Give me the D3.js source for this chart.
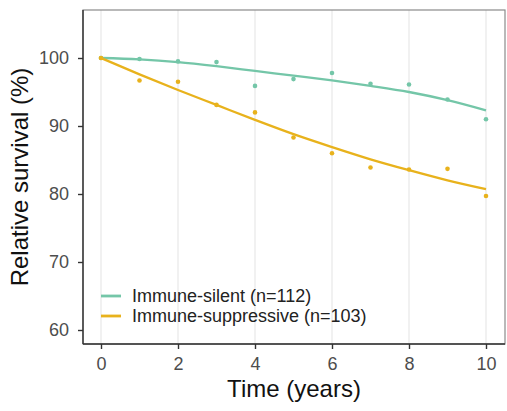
<!DOCTYPE html>
<html>
<head>
<meta charset="UTF-8">
<script src="https://d3js.org/d3.v7.min.js"></script>
<style>
  body { margin: 0; background: #fff; font-family: "Liberation Sans", Arial, sans-serif; }
  svg { display: block; }
</style>
</head>
<body>
<svg width="507" height="411"></svg>
<script>
const years = [0, 1, 2, 3, 4, 5, 6, 7, 8, 9, 10];
// observed relative survival (%)
const silentPts = [100, 99.85, 99.5, 99.4, 95.9, 96.9, 97.8, 96.2, 96.1, 93.9, 91.0];
const suppPts = [100, 96.7, 96.5, 93.1, 92.0, 88.3, 86.0, 83.9, 83.6, 83.7, 79.7];
// fitted curves
const silentFit = [100, 99.8, 99.4, 98.8, 98.1, 97.4, 96.7, 95.9, 95.0, 93.8, 92.3];
const suppFit = [100, 97.6, 95.3, 93.1, 90.9, 88.8, 86.9, 85.1, 83.5, 82.0, 80.7];
const xTicks = [0, 2, 4, 6, 8, 10];
const yTicks = [60, 70, 80, 90, 100];
const groups = ["Immune-silent (n=112)", "Immune-suppressive (n=103)"];
const colors = ["#74c6a8", "#e8b21c"];

const svg = d3.select("svg");
const pLeft = 83, pRight = 505, pTop = 10, pBottom = 344;

const x = d3.scaleLinear().domain([0, 10]).range([101, 486]);
const y = d3.scaleLinear().domain([60, 100]).range([330, 58]);

// vertical grid
svg.append("g").selectAll("line").data(xTicks).join("line")
  .attr("x1", d => x(d)).attr("x2", d => x(d))
  .attr("y1", pTop).attr("y2", pBottom)
  .attr("stroke", "#e3e3e3").attr("stroke-width", 1);

// panel border
svg.append("rect")
  .attr("x", pLeft).attr("y", pTop)
  .attr("width", pRight - pLeft).attr("height", pBottom - pTop)
  .attr("fill", "none").attr("stroke", "#8a8a8a").attr("stroke-width", 1.2);

const series = [
  { pts: silentPts, fit: silentFit, color: colors[0] },
  { pts: suppPts, fit: suppFit, color: colors[1] }
];

const line = d3.line()
  .x((d, i) => x(years[i]))
  .y(d => y(d))
  .curve(d3.curveMonotoneX);

series.forEach(s => {
  svg.append("path")
    .datum(s.fit)
    .attr("d", line)
    .attr("fill", "none")
    .attr("stroke", s.color)
    .attr("stroke-width", 2.3);
  svg.append("g").selectAll("circle").data(s.pts).join("circle")
    .attr("cx", (d, i) => x(years[i]))
    .attr("cy", d => y(d))
    .attr("r", 2.3)
    .attr("fill", s.color);
});

// axes
const xAxis = svg.append("g")
  .attr("transform", `translate(0,${pBottom})`)
  .call(d3.axisBottom(x).tickValues(xTicks).tickSize(5).tickPadding(8));
const yAxis = svg.append("g")
  .attr("transform", `translate(${pLeft},0)`)
  .call(d3.axisLeft(y).tickValues(yTicks).tickSize(5).tickPadding(9));

xAxis.select(".domain").attr("d", `M${pLeft},0H${pRight}`);
yAxis.select(".domain").attr("d", `M0,${pTop}V${pBottom}`);
[xAxis, yAxis].forEach(a => {
  a.select(".domain").attr("stroke", "#333").attr("stroke-width", 1.4);
  a.selectAll(".tick line").attr("stroke", "#333").attr("stroke-width", 1.4);
  a.selectAll(".tick text")
    .attr("fill", "#4d4d4d")
    .style("font-size", "18px")
    .style("font-family", "'Liberation Sans', Arial, sans-serif");
});

// axis titles
svg.append("text")
  .attr("x", 294).attr("y", 397)
  .attr("text-anchor", "middle")
  .attr("fill", "#111")
  .style("font-size", "24px")
  .text("Time (years)");

svg.append("text")
  .attr("transform", "translate(28,177) rotate(-90)")
  .attr("text-anchor", "middle")
  .attr("fill", "#111")
  .style("font-size", "24px")
  .text("Relative survival (%)");

// legend
const leg = svg.append("g");
groups.forEach((g, i) => {
  const ly = 296 + i * 20;
  leg.append("line")
    .attr("x1", 101).attr("x2", 121)
    .attr("y1", ly).attr("y2", ly)
    .attr("stroke", colors[i]).attr("stroke-width", 2.8);
  leg.append("text")
    .attr("x", 132).attr("y", ly)
    .attr("dy", "0.36em")
    .attr("fill", "#222")
    .style("font-size", "18px")
    .text(g);
});
</script>
</body>
</html>
